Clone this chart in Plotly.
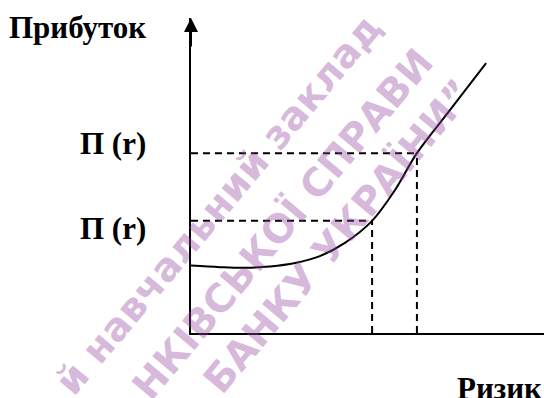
import plotly.graph_objects as go

# Curve: profit as a function of risk (arbitrary units)
risk_curve = [0.0, 0.82, 1.53, 2.24, 2.95, 3.65, 4.36, 5.13, 5.78, 6.40, 7.34, 8.36]
profit_curve = [2.14, 2.09, 2.07, 2.11, 2.22, 2.44, 2.86, 3.56, 4.54, 5.71, 7.08, 8.57]

# Two marked risk levels and their profits
risk_levels = [5.13, 6.40]
profit_levels = [3.56, 5.71]

# Texts
y_title = "Прибуток"
x_title = "Ризик"
level_labels = ["П (r)", "П (r)"]
label_y = [3.33, 6.03]
watermark = ["й навчальний заклад", "НКІВСЬКОЇ СПРАВИ", "БАНКУ УКРАЇНИ\u201d"]

W, H = 544, 398
L, R, T, B = 191, 0, 18, 65
pw, ph = W - L - R, H - T - B

fig = go.Figure()

for rx, py in zip(risk_levels, profit_levels):
    fig.add_trace(go.Scatter(x=[0, rx], y=[py, py], mode="lines",
                             line=dict(color="black", width=2, dash="7px,5px"),
                             hoverinfo="skip", showlegend=False))
    fig.add_trace(go.Scatter(x=[rx, rx], y=[0, py], mode="lines",
                             line=dict(color="black", width=2, dash="7px,5px"),
                             hoverinfo="skip", showlegend=False))

fig.add_trace(go.Scatter(x=risk_curve, y=profit_curve, mode="lines",
                         line=dict(color="black", width=2, shape="spline", smoothing=1.0),
                         hoverinfo="skip", showlegend=False))

def px_to_paper(xp, yp):
    return (xp - L) / pw, (H - B - yp) / ph

ann = []
serif = dict(family="Liberation Serif", size=31, color="black", weight="bold")

# Axis arrowheads
ann.append(dict(x=0, y=10, xref="x", yref="y", text="", showarrow=True, ax=0, ay=30,
                arrowhead=2, arrowsize=1.4, arrowwidth=2, arrowcolor="black"))
ann.append(dict(x=10.15, y=0, xref="x", yref="y", text="", showarrow=True, ax=-30, ay=0,
                arrowhead=2, arrowsize=1.4, arrowwidth=2, arrowcolor="black"))

xp, yp = px_to_paper(148, 27)
ann.append(dict(x=xp, y=yp, xref="paper", yref="paper", text=y_title, showarrow=False,
                xanchor="right", yanchor="middle", font=serif))
xp, yp = px_to_paper(544, 388)
ann.append(dict(x=xp, y=yp, xref="paper", yref="paper", text=x_title, showarrow=False,
                xanchor="right", yanchor="middle", font=serif))
for lbl, ly in zip(level_labels, label_y):
    xp, _ = px_to_paper(148, 0)
    ann.append(dict(x=xp, y=ly, xref="paper", yref="y", text=lbl, showarrow=False,
                    xanchor="right", yanchor="middle", font=serif))

# Watermark
wm_centers = [(218, 204), (282, 224), (338, 236)]
for txt, (cx, cy) in zip(watermark, wm_centers):
    xp, yp = px_to_paper(cx, cy)
    ann.append(dict(x=xp, y=yp, xref="paper", yref="paper", text=txt, showarrow=False,
                    textangle=-50, xanchor="center", yanchor="middle",
                    font=dict(family="DejaVu Sans", size=39, weight="bold",
                              color="rgba(150,70,160,0.38)")))

fig.update_layout(
    width=W, height=H,
    margin=dict(l=L, r=R, t=T, b=B),
    paper_bgcolor="white", plot_bgcolor="white",
    xaxis=dict(range=[0, 10], showgrid=False, zeroline=False, showticklabels=False,
               ticks="", showline=True, linecolor="black", linewidth=2),
    yaxis=dict(range=[0, 10], showgrid=False, zeroline=False, showticklabels=False,
               ticks="", showline=True, linecolor="black", linewidth=2),
    annotations=ann,
)

fig.write_html("out.html", config={"displayModeBar": False},
               post_script="document.body.style.margin='0';document.body.style.overflow='hidden';")
